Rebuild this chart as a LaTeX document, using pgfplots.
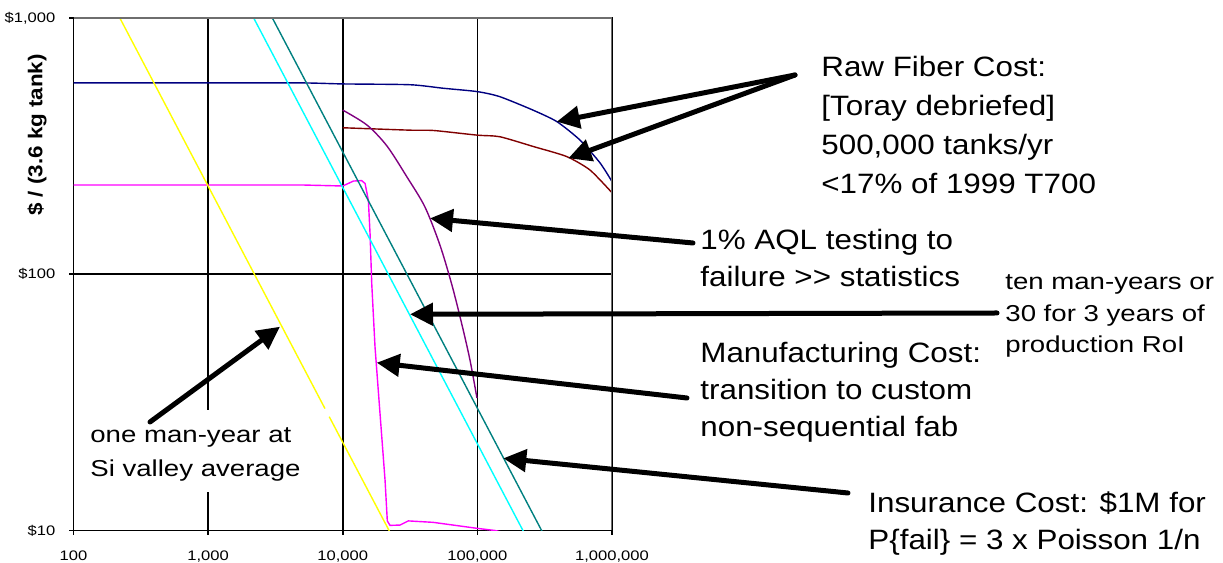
\documentclass[border=0pt]{standalone}
\usepackage{fontspec}
\setmainfont{Liberation Sans}
\newfontfamily\sfA{Liberation Sans}[FakeStretch=1.12]
\newfontfamily\sfB{Liberation Sans}[FakeStretch=1.2]
\usepackage{pgfplots}
\pgfplotsset{compat=1.18}
\usetikzlibrary{arrows.meta}
\definecolor{cNavy}{RGB}{0,0,128}
\definecolor{cMaroon}{RGB}{128,0,0}
\definecolor{cPurple}{RGB}{128,0,128}
\definecolor{cMagenta}{RGB}{255,0,255}
\definecolor{cYellow}{RGB}{255,255,0}
\definecolor{cCyan}{RGB}{0,255,255}
\definecolor{cTeal}{RGB}{0,128,128}
\definecolor{cBorder}{RGB}{110,110,110}
\begin{document}
\begin{tikzpicture}
\begin{axis}[
  xmode=log, ymode=log,
  at={(0,0)}, anchor=south west,
  scale only axis, width=269.25pt, height=256.25pt,
  xmin=100, xmax=1000000, ymin=10, ymax=1000,
  xtick={100,1000,10000,100000,1000000},
  xticklabels={100,{1,000},{10,000},{100,000},{1,000,000}},
  ytick={10,100,1000},
  yticklabels={\$10,\$100,{\$1,000}},
  xminorticks=false, yminorticks=false,
  grid=major, major grid style={black, line width=0.8pt},
  axis line style={black, line width=0.9pt},
  tick align=outside, major tick length=2.2pt,
  xtick pos=left, ytick pos=left,
  tick style={black, line width=0.8pt},
  xticklabel style={font=\sfB\fontsize{6.9}{7}\selectfont, inner sep=0pt, anchor=north, yshift=-8pt},
  yticklabel style={font=\sfB\fontsize{6.9}{7}\selectfont, inner sep=0pt, anchor=east, xshift=-6.7pt},
]
% Raw fiber cost (upper)
\addplot[cNavy, line width=0.7pt, smooth, tension=0.4] coordinates {
 (100,558) (1000,558) (5000,558) (10000,553) (31600,549) (55600,532)
 (100000,516) (147000,493) (259000,437) (390000,394) (578000,334)
 (815000,272) (1000000,230)};
% Raw fiber cost (lower)
\addplot[cMaroon, line width=0.7pt, smooth, tension=0.4] coordinates {
 (10000,373) (31600,365) (47100,364) (100000,349) (147000,344)
 (261000,315) (460000,288) (687000,255) (1000000,208)};
% 1% AQL testing
\addplot[cPurple, line width=0.7pt, smooth, tension=0.5] coordinates {
 (10000,437) (15150,382) (21300,316.6) (30000,239.6) (40800,183)
 (52700,130) (64700,90.8) (76900,63.4) (88100,46.3) (99300,32.9)};
% Manufacturing cost
\addplot[cMagenta, line width=0.7pt] coordinates {
 (100,223) (5000,223) (10000,221) (12000,231) (13800,232) (14650,226)
 (15500,194.5) (15950,144.5) (16420,92) (17370,52) (18920,28.6)
 (20620,15.7) (21430,10.9) (22440,10.47) (26630,10.5) (30690,10.9)
 (46900,10.76) (98900,10.2) (135000,10.0) (160000,9.8)};
% one man-year
\addplot[cYellow, line width=0.7pt] coordinates {(100,2210) (7380,29.9)};
\addplot[cYellow, line width=0.7pt] coordinates {(7940,27.8) (100000,2.21)};
% ten man-years
\addplot[cCyan, line width=0.7pt] coordinates {(1000,2180) (1000000,2.18)};
% insurance cost
\addplot[cTeal, line width=0.7pt] coordinates {(1000,3000) (1000000,3.0)};
\draw[cBorder, line width=0.8pt] (rel axis cs:0,1) -- (rel axis cs:1,1) -- (rel axis cs:1,0);
\end{axis}
\begin{scope}[x=0.5pt, y=-0.5pt, shift={(-73.5,-530.5)}]
\path[use as bounding box] (0,0) rectangle (1223,561);
\node[rotate=90, font=\sfA\bfseries\fontsize{10}{12}\selectfont] at (37,135) {\$ / (3.6 kg tank)};
\fill[white] (88,410) rectangle (305,492);
\begin{scope}[line width=2.5pt, line cap=round, -{Triangle[length=11.5pt, width=11pt]}]
\draw (795,75) -- (556.7,121.7);
\draw (795,75) -- (568.3,158.3);
\draw (693,243) -- (430,218.3);
\draw (997,313) -- (410,314.3);
\draw (687,398) -- (376.7,362.7);
\draw (848,493) -- (503.3,458.3);
\draw (150,422) -- (280,326.7);
\end{scope}
\begin{scope}[every node/.style={anchor=base west, inner sep=0pt, font=\sfA\fontsize{14}{17}\selectfont}]
\node at (821,77) {Raw Fiber Cost:};
\node at (821,116) {[Toray debriefed]};
\node at (821,155) {500,000 tanks/yr};
\node at (821,194) {<17\% of 1999 T700};
\node at (700,250) {1\% AQL testing to};
\node at (700,287) {failure >> statistics};
\node at (700,363) {Manufacturing Cost:};
\node at (700,400) {transition to custom};
\node at (700,437) {non-sequential fab};
\node at (868,513) {Insurance Cost: \$1M for};
\node at (868,550) {P\{fail\} = 3 x Poisson 1/n};
\end{scope}
\begin{scope}[every node/.style={anchor=base west, inner sep=0pt, font=\sfB\fontsize{11.5}{13}\selectfont}]
\node at (1005,290) {ten man-years or};
\node at (1005,322) {30 for 3 years of};
\node at (1005,353) {production RoI};
\node at (90,443) {one man-year at};
\node at (90,477) {Si valley average};
\end{scope}
\end{scope}
\end{tikzpicture}
\end{document}
